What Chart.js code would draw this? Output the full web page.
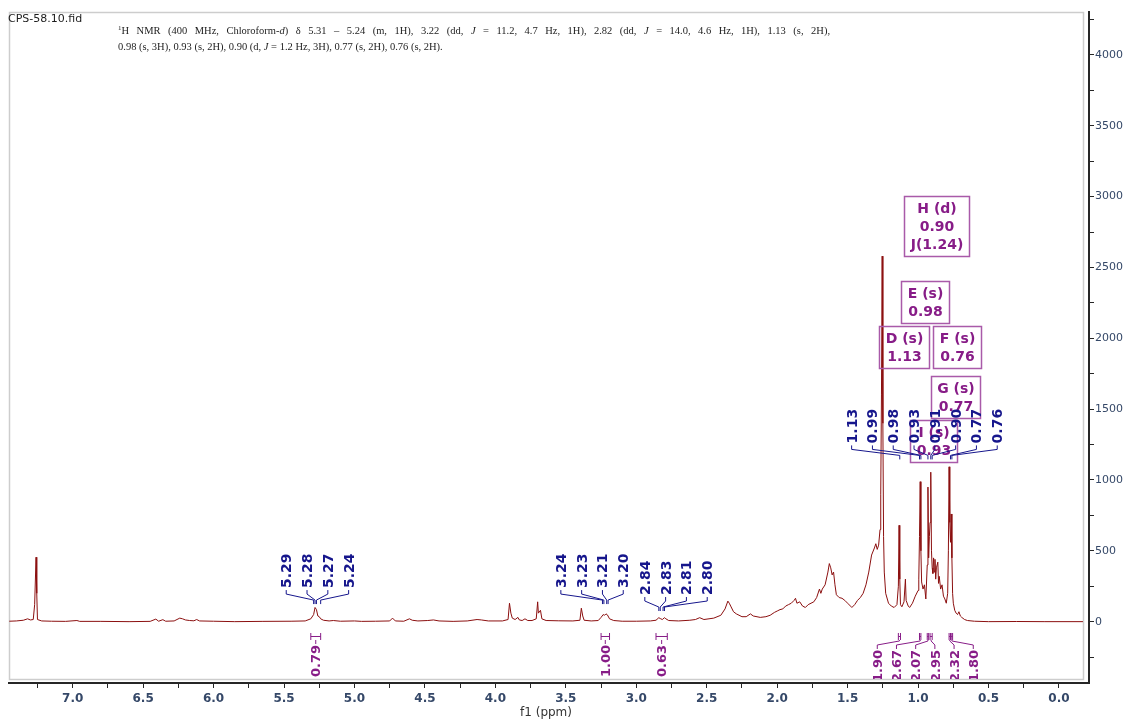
<!DOCTYPE html>
<html>
<head>
<meta charset="utf-8">
<title>CPS-58.10.fid</title>
<script src="https://cdn.jsdelivr.net/npm/chart.js@4.4.1/dist/chart.umd.min.js"></script>
<style>
  html, body { margin: 0; padding: 0; background: #ffffff; }
  #wrap { width: 1127px; height: 719px; }
</style>
</head>
<body>
<div id="wrap"><canvas id="nmr" width="1127" height="719"></canvas></div>
<script>
// ============================================
// 1H NMR spectrum - CPS-58.10.fid
// ============================================

// Spectrum trace: chemical shift (ppm) / intensity
const shiftPpm = [
    7.45, 7.40, 7.35, 7.32, 7.30, 7.28, 7.27, 7.26, 7.255, 7.25, 7.22, 7.15, 7.05, 6.97, 6.95, 6.80,
    6.60, 6.45, 6.41, 6.39, 6.36, 6.34, 6.28, 6.24, 6.22, 6.20, 6.17, 6.14, 6.12, 6.10, 6.00,
    5.85, 5.65, 5.45, 5.35, 5.31, 5.29, 5.28, 5.27, 5.26, 5.25, 5.24, 5.22, 5.18, 5.15, 5.10, 5.00,
    4.95, 4.85, 4.75, 4.73, 4.71, 4.65, 4.61, 4.59, 4.55, 4.48, 4.44, 4.40, 4.30, 4.20, 4.13, 4.10, 4.05,
    3.95, 3.91, 3.90, 3.89, 3.88, 3.86, 3.84, 3.83, 3.81, 3.79, 3.77, 3.74, 3.71, 3.70, 3.695, 3.68,
    3.67, 3.64, 3.55, 3.45, 3.40, 3.39, 3.38, 3.37, 3.32, 3.27, 3.25, 3.235, 3.225, 3.215, 3.205, 3.19,
    3.16, 3.10, 3.00,
    2.90, 2.86, 2.84, 2.83, 2.815, 2.80, 2.79, 2.77, 2.70, 2.62, 2.58, 2.55, 2.52, 2.45, 2.40, 2.37,
    2.35, 2.34, 2.33, 2.31, 2.29, 2.25, 2.22, 2.19, 2.17, 2.12, 2.08, 2.05, 2.02, 2.00,
    1.98, 1.96, 1.94, 1.92, 1.90, 1.88, 1.87, 1.86, 1.84, 1.82, 1.80, 1.78, 1.76, 1.74, 1.72, 1.70,
    1.69, 1.68, 1.66, 1.64, 1.63, 1.62, 1.61, 1.60, 1.59, 1.58, 1.56, 1.54, 1.52, 1.50, 1.48, 1.47,
    1.45, 1.43, 1.41, 1.39, 1.37, 1.35, 1.33, 1.31, 1.30,
    1.29, 1.28, 1.27, 1.265, 1.26, 1.255, 1.25, 1.245, 1.24, 1.23, 1.21, 1.19, 1.17, 1.15, 1.14, 1.135,
    1.13, 1.125, 1.115, 1.10, 1.09, 1.085, 1.07, 1.06, 1.04, 1.02, 1.00,
    0.995, 0.99, 0.985, 0.98, 0.975, 0.965, 0.955, 0.945, 0.935, 0.93, 0.925, 0.92, 0.915, 0.91, 0.905, 0.90,
    0.895, 0.89, 0.885, 0.88, 0.875, 0.87, 0.86, 0.855, 0.85, 0.84, 0.83, 0.82, 0.81, 0.80, 0.79, 0.785,
    0.78, 0.775, 0.77, 0.765, 0.76, 0.755, 0.75, 0.74, 0.73, 0.72, 0.71, 0.70, 0.69, 0.67, 0.65, 0.60,
    0.50, 0.30, 0.10, -0.17
];
const intensity = [
    3, 5, 10, 20, 12, 15, 120, 455, 200, 15, 5, 3, 2, 8, 2, 2,
    0, 2, 18, 3, 14, 3, 5, 25, 20, 12, 8, 6, 15, 5, 3,
    0, 2, 3, 5, 20, 50, 100, 85, 40, 35, 20, 10, 5, 8, 3, 5,
    2, 3, 5, 25, 5, 3, 20, 10, 5, 8, 12, 5, 2, 5, 15, 12, 5,
    5, 15, 130, 60, 25, 15, 30, 12, 8, 20, 8, 8, 20, 140, 60, 80,
    20, 8, 6, 5, 10, 95, 40, 10, 5, 8, 30, 50, 45, 55, 48, 20,
    8, 3, 3,
    5, 10, 28, 22, 15, 28, 20, 8, 5, 10, 15, 28, 15, 25, 45, 90,
    145, 130, 110, 70, 55, 35, 35, 55, 40, 30, 35, 45, 65, 75,
    85, 90, 110, 120, 130, 150, 165, 130, 140, 110, 100, 120, 130, 140, 170, 230,
    200, 230, 260, 350, 410, 380, 330, 350, 260, 190, 170, 165, 150, 130, 110, 100,
    120, 150, 170, 200, 260, 350, 470, 520, 550,
    510, 540, 650, 900, 1600, 2580, 1400, 600, 350, 200, 130, 110, 100, 120, 250, 680,
    300, 120, 105, 140, 300, 150, 110, 100, 130, 180, 220,
    300, 600, 988, 500, 280, 230, 260, 160, 400, 950, 450, 600, 700, 1055, 500, 380,
    340, 450, 350, 440, 300, 380, 420, 270, 320, 230, 260, 180, 160, 130, 200, 500,
    1093, 700, 560, 760, 450, 200, 130, 80, 60, 50, 70, 40, 30, 15, 8, 3,
    0, 1, 0, 0
];

// Intensity axis ticks (labels every 500)
const intensityTicks = [-250, 0, 250, 500, 750, 1000, 1250, 1500, 1750, 2000, 2250, 2500, 2750,
    3000, 3250, 3500, 3750, 4000, 4250];

// Peak picking labels
const peaksOlefinic = ['5.29', '5.28', '5.27', '5.24'];
const peaksCarbinol = ['3.24', '3.23', '3.21', '3.20'];
const peaksAllylic = ['2.84', '2.83', '2.81', '2.80'];
const peaksMethyl = ['1.13', '0.99', '0.98', '0.93', '0.91', '0.90', '0.77', '0.76'];

// Integrals
const integralValues = ['0.79', '1.00', '0.63', '1.90', '2.67', '2.07', '2.95', '2.32', '1.80'];
const integralFrom = [5.31, 3.25, 2.86, 1.14, 0.99, 0.935, 0.915, 0.78, 0.765];
const integralTo = [5.24, 3.19, 2.78, 1.125, 0.98, 0.925, 0.90, 0.77, 0.755];

// Multiplet boxes
const multipletNames = ['H (d)', 'E (s)', 'D (s)', 'F (s)', 'G (s)', 'I (s)'];
const multipletShifts = ['0.90', '0.98', '1.13', '0.76', '0.77', '0.93'];
const multipletJ = ['J(1.24)', '', '', '', '', ''];

// Header text
const fileName = 'CPS-58.10.fid';
const headerLine1 = [
    ['1', 'sup'], ['H NMR (400 MHz, Chloroform-', 'n'], ['d', 'i'],
    [') \u03b4 5.31 \u2013 5.24 (m, 1H), 3.22 (dd, ', 'n'], ['J', 'i'],
    [' = 11.2, 4.7 Hz, 1H), 2.82 (dd, ', 'n'], ['J', 'i'],
    [' = 14.0, 4.6 Hz, 1H), 1.13 (s, 2H),', 'n']
];
const headerLine2 = [
    ['0.98 (s, 3H), 0.93 (s, 2H), 0.90 (d, ', 'n'], ['J', 'i'],
    [' = 1.2 Hz, 3H), 0.77 (s, 2H), 0.76 (s, 2H).', 'n']
];

// Colores
const colors = {
    trace: '#8b0f0f',
    peak: '#16168c',
    integral: '#871c87',
    box: '#a95aa9',
    axis: '#262626',
    tick: '#354868',
    frame: '#cdcdcd',
    text: '#1c1c1c'
};

const FONT = '"DejaVu Sans", Verdana, sans-serif';
const SERIF = '"Liberation Serif", "Times New Roman", serif';

// Layout of the annotations (data units)
const peakGroups = [
    { labels: peaksOlefinic, center: 5.263, base: 237 },
    { labels: peaksCarbinol, center: 3.314, base: 237 },
    { labels: peaksAllylic, center: 2.718, base: 188 },
    { labels: peaksMethyl, center: 0.955, base: 1258 }
];
const integralGroups = [
    { members: [0], center: 5.275 },
    { members: [1], center: 3.22 },
    { members: [2], center: 2.82 },
    { members: [3, 4, 5, 6, 7, 8], center: 0.949 }
];
const boxAnchors = [[0.871, 2796], [0.951, 2253], [1.101, 1939], [0.726, 1939], [0.736, 1586], [0.892, 1276]];

// Texto con cursiva / superindice, justificado opcional
function drawRich(ctx, parts, x0, yb, justifyTo) {
    const fontOf = s => s === 'sup' ? '7px ' + SERIF : (s === 'i' ? 'italic ' : '') + '10.5px ' + SERIF;
    let natural = 0;
    let spaces = 0;
    parts.forEach(([t, s]) => {
        ctx.font = fontOf(s);
        natural += ctx.measureText(t).width;
        spaces += (t.match(/ /g) || []).length;
    });
    const extra = justifyTo && spaces ? (justifyTo - natural) / spaces : 0;
    let xp = x0;
    parts.forEach(([t, s]) => {
        ctx.font = fontOf(s);
        const dy = s === 'sup' ? -4 : 0;
        t.split(' ').forEach((word, k) => {
            if (k > 0) xp += ctx.measureText(' ').width + extra;
            ctx.fillText(word, xp, yb + dy);
            xp += ctx.measureText(word).width;
        });
    });
}

function drawBoxes(ctx, x, y) {
    ctx.font = 'bold 14px ' + FONT;
    ctx.textAlign = 'center';
    ctx.textBaseline = 'middle';
    multipletNames.forEach((name, i) => {
        const lines = [name, multipletShifts[i]];
        if (multipletJ[i]) lines.push(multipletJ[i]);
        const w = Math.round(Math.max(...lines.map(t => ctx.measureText(t).width)) + 12);
        const h = lines.length * 18 + 6;
        const cx = x.getPixelForValue(boxAnchors[i][0]);
        const cy = y.getPixelForValue(boxAnchors[i][1]);
        const left = Math.round(cx - w / 2) + 0.5;
        const top = Math.round(cy - h / 2) + 0.5;
        ctx.strokeStyle = colors.box;
        ctx.lineWidth = 1.5;
        ctx.strokeRect(left, top, w, h);
        ctx.fillStyle = colors.integral;
        lines.forEach((t, k) => ctx.fillText(t, left + w / 2, top + 3 + 10 + k * 18));
    });
}

function drawPeakGroup(ctx, x, y, g) {
    const n = g.labels.length;
    const cx = x.getPixelForValue(g.center);
    const base = y.getPixelForValue(g.base);
    ctx.font = 'bold 14px ' + FONT;
    ctx.fillStyle = colors.peak;
    ctx.strokeStyle = colors.peak;
    ctx.lineWidth = 1;
    g.labels.forEach((lab, i) => {
        const lx = cx + (i - (n - 1) / 2) * 20.8;
        const px = x.getPixelForValue(parseFloat(lab));
        ctx.save();
        ctx.translate(lx, base);
        ctx.rotate(-Math.PI / 2);
        ctx.textAlign = 'left';
        ctx.textBaseline = 'alphabetic';
        ctx.fillText(lab, 0, 5);
        ctx.restore();
        ctx.beginPath();
        ctx.moveTo(lx, base + 2);
        ctx.lineTo(lx, base + 6);
        ctx.lineTo(px, base + 12);
        ctx.lineTo(px, base + 16);
        ctx.stroke();
    });
}

function drawIntegrals(ctx, x, y) {
    const B = y.getPixelForValue(-80);
    ctx.font = 'bold 13px ' + FONT;
    ctx.fillStyle = colors.integral;
    ctx.strokeStyle = colors.integral;
    ctx.lineWidth = 1;
    integralGroups.forEach(g => {
        const n = g.members.length;
        const cx = x.getPixelForValue(g.center);
        // las etiquetas agrupadas llevan conector inclinado
        const drop = n > 1 ? 17 : 12;
        g.members.forEach((idx, k) => {
            const x1 = x.getPixelForValue(integralFrom[idx]);
            const x2 = x.getPixelForValue(integralTo[idx]);
            const xm = (x1 + x2) / 2;
            const lx = cx + (k - (n - 1) / 2) * 19.2;
            ctx.beginPath();
            ctx.moveTo(x1, B); ctx.lineTo(x1, B + 7);
            ctx.moveTo(x2, B); ctx.lineTo(x2, B + 7);
            ctx.moveTo(x1, B + 3.5); ctx.lineTo(x2, B + 3.5);
            ctx.moveTo(xm, B + 7);
            ctx.lineTo(xm, B + 8);
            ctx.lineTo(lx, drop > 12 ? B + 12 : B + 9);
            ctx.lineTo(lx, B + drop - 1);
            ctx.stroke();
            ctx.save();
            ctx.translate(lx, B + drop);
            ctx.rotate(-Math.PI / 2);
            ctx.textAlign = 'right';
            ctx.textBaseline = 'alphabetic';
            ctx.fillText(integralValues[idx], 0, 4.7);
            ctx.restore();
        });
    });
}

// Plugin: marco, anotaciones y cabecera
const nmrLayer = {
    id: 'nmrLayer',
    beforeDatasetsDraw(chart) {
        const { ctx, chartArea: a } = chart;
        ctx.save();
        ctx.strokeStyle = colors.frame;
        ctx.lineWidth = 1.5;
        ctx.strokeRect(a.left + 0.5, a.top + 0.5, a.right - a.left - 6, a.bottom - a.top - 4);
        ctx.restore();
    },
    afterDatasetsDraw(chart) {
        const { ctx, chartArea: a, scales: { x, y } } = chart;
        ctx.save();
        ctx.beginPath();
        ctx.rect(a.left, a.top, a.right - a.left - 6, a.bottom - a.top - 4);
        ctx.clip();
        drawBoxes(ctx, x, y);
        peakGroups.forEach(g => drawPeakGroup(ctx, x, y, g));
        drawIntegrals(ctx, x, y);
        ctx.restore();
    },
    afterDraw(chart) {
        const { ctx } = chart;
        ctx.save();
        ctx.fillStyle = colors.text;
        ctx.textAlign = 'left';
        ctx.textBaseline = 'alphabetic';
        ctx.font = '11px ' + FONT;
        ctx.fillText(fileName, 8, 22);
        drawRich(ctx, headerLine1, 118, 34, 712);
        drawRich(ctx, headerLine2, 118, 50, 0);
        // titulo eje x
        ctx.font = '12px ' + FONT;
        ctx.fillStyle = '#333333';
        ctx.textAlign = 'center';
        ctx.fillText('f1 (ppm)', 546, 716);
        ctx.restore();
    }
};

const isHalf = v => Math.abs(v * 2 - Math.round(v * 2)) < 1e-6;

new Chart(document.getElementById('nmr'), {
    type: 'line',
    data: {
        datasets: [{
            label: 'f1',
            data: shiftPpm.map((p, i) => ({ x: p, y: intensity[i] })),
            borderColor: colors.trace,
            borderWidth: 1,
            pointRadius: 0,
            fill: false,
            tension: 0
        }]
    },
    options: {
        responsive: false,
        animation: false,
        devicePixelRatio: 1,
        layout: { padding: { left: 9, top: 12, right: 0, bottom: 0 } },
        plugins: { legend: { display: false }, tooltip: { enabled: false } },
        scales: {
            x: {
                type: 'linear',
                reverse: true,
                min: -0.213,
                max: 7.452,
                border: { color: colors.axis, width: 2 },
                grid: { drawOnChartArea: false, drawTicks: true, tickLength: 5, color: colors.axis },
                ticks: {
                    stepSize: 0.25,
                    includeBounds: false,
                    autoSkip: false,
                    maxRotation: 0,
                    padding: 4,
                    color: colors.tick,
                    font: { family: FONT, size: 12, weight: 'bold' },
                    callback: v => isHalf(v) ? Math.abs(v).toFixed(1) : ''
                },
                afterFit: s => { s.height = 36; }
            },
            y: {
                type: 'linear',
                position: 'right',
                min: -433,
                max: 4303,
                border: { color: colors.axis, width: 2 },
                grid: { drawOnChartArea: false, drawTicks: true, tickLength: 5, color: colors.axis },
                afterBuildTicks: s => { s.ticks = intensityTicks.map(v => ({ value: v })); },
                ticks: {
                    autoSkip: false,
                    padding: 1,
                    color: colors.tick,
                    font: { family: FONT, size: 11 },
                    callback: v => v % 500 === 0 ? String(v) : ''
                },
                afterFit: s => { s.width = 38; }
            }
        }
    },
    plugins: [nmrLayer]
});
</script>
</body>
</html>
